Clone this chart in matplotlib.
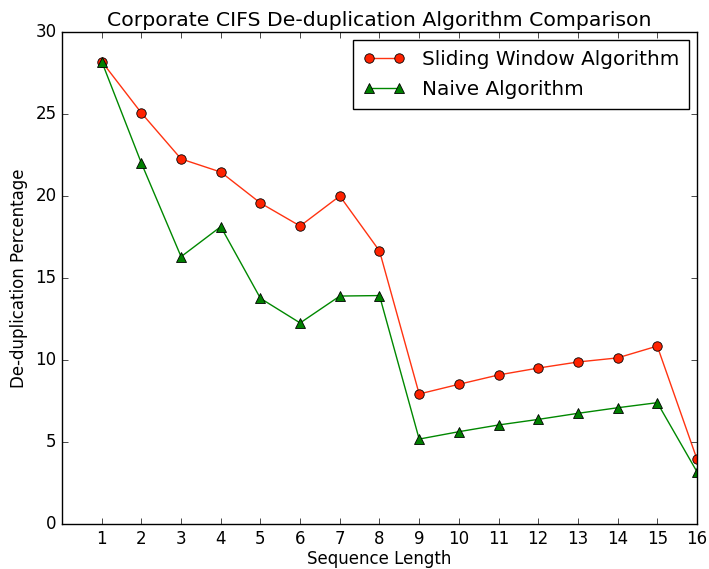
import matplotlib
matplotlib.use("Agg")
import matplotlib.pyplot as plt

plt.style.use("classic")

seq_len = list(range(1, 17))
sliding = [28.2, 25.06, 22.26, 21.46, 19.57, 18.17, 20.0, 16.65,
           7.93, 8.52, 9.09, 9.51, 9.88, 10.13, 10.85, 3.96]
naive = [28.2, 22.0, 16.3, 18.13, 13.76, 12.26, 13.9, 13.93,
         5.18, 5.63, 6.04, 6.38, 6.75, 7.09, 7.4, 3.19]
xticks = list(range(1, 17))

fig = plt.figure(figsize=(7.09, 5.69), dpi=100)
ax = fig.add_axes([0.0875, 0.079, 0.8955, 0.8648])

ax.plot(seq_len, sliding, color="#ff3311", marker="o", markersize=6.8,
        markerfacecolor="#ff2200", markeredgecolor="k", markeredgewidth=0.6,
        label="Sliding Window Algorithm")
ax.plot(seq_len, naive, color="#008800", marker="^", markersize=6.8,
        markerfacecolor="#008000", markeredgecolor="k", markeredgewidth=0.6,
        label="Naive Algorithm")

ax.set_xlim(0, 16)
ax.set_ylim(0, 30)
ax.set_xticks(xticks)
ax.set_title("Corporate CIFS De-duplication Algorithm Comparison",
             fontsize=14.7, pad=4)
ax.set_xlabel("Sequence Length", fontsize=12, labelpad=1.5)
ax.set_ylabel("De-duplication Percentage", fontsize=12, labelpad=5)
ax.legend(loc="upper right", numpoints=2, fontsize=14.4,
          borderpad=0.5, handlelength=2.1, handletextpad=0.85,
          borderaxespad=0.4, labelspacing=0.55)

fig.savefig("out.png", dpi=100)
